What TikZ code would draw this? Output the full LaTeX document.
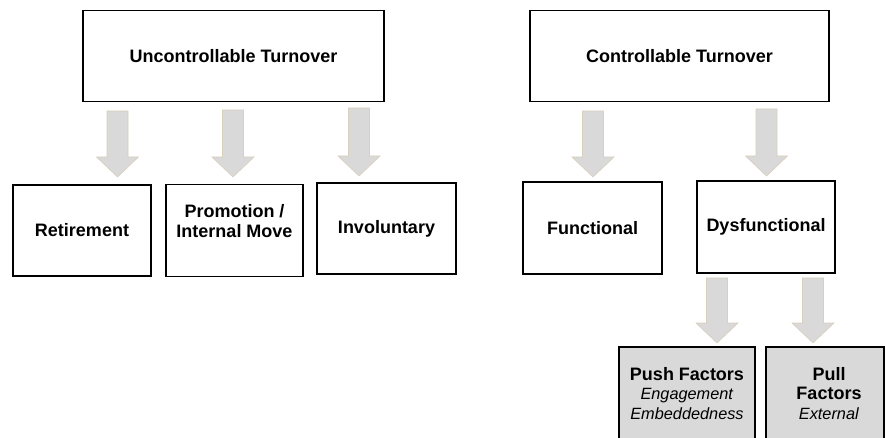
\documentclass[tikz,border=0pt]{standalone}
\usepackage{fontspec}
\setmainfont{Liberation Sans}
\usetikzlibrary{calc}

\definecolor{arrowgrey}{HTML}{D9D9D9}
\definecolor{arrowedge}{HTML}{D8CFBD}
\definecolor{factorfill}{HTML}{D9D9D9}

% Block arrow from a top-centre coordinate to a tip coordinate
\newcommand\blockarrow[2]{%
  \filldraw[arrowshape] let \p1=(#1), \p2=(#2) in
    (\x1-10.5pt,\y1) -- (\x1+10.5pt,\y1) -- (\x1+10.5pt,\y2+20pt)
    -- (\x1+21pt,\y2+20pt) -- (\x1,\y2) -- (\x1-21pt,\y2+20pt)
    -- (\x1-10.5pt,\y2+20pt) -- cycle;}

\tikzset{
  box/.style={draw=black, line width=1.8pt, fill=white, rectangle,
    inner sep=0pt, align=center, text=black,
    font=\bfseries\fontsize{18}{20.5}\selectfont},
  factorbox/.style={box, fill=factorfill},
  boxtext/.style={inner sep=0pt, align=center, text=black,
    font=\bfseries\fontsize{18}{20.5}\selectfont},
  factortext/.style={inner sep=0pt, align=center, text=black,
    font=\fontsize{16.3}{19.2}\selectfont},
  arrowshape/.style={fill=arrowgrey, draw=arrowedge, line width=0.6pt},
}

\begin{document}
\begin{tikzpicture}[x=1pt, y=-1pt]
  \useasboundingbox (0,0) rectangle (886,438);

  % top level
  \node[box, minimum width=301pt, minimum height=91pt] (unc) at (233.5,56)
    {Uncontrollable Turnover};
  \node[box, minimum width=299pt, minimum height=91pt] (con) at (679.5,56)
    {Controllable Turnover};

  % second level, uncontrollable branch
  \node[box, minimum width=138pt, minimum height=91pt] (ret) at (82,230.5)
    {Retirement};
  \node[box, minimum width=137pt, minimum height=92pt] (pro) at (234.5,230.5) {};
  \node[boxtext] (protext) at (234.5,221) {Promotion /\\Internal Move};
  \node[box, minimum width=139pt, minimum height=91pt] (inv) at (386.5,228.5)
    {Involuntary};

  % second level, controllable branch
  \node[box, minimum width=139pt, minimum height=92pt] (fun) at (592.5,228)
    {Functional};
  \node[box, minimum width=138pt, minimum height=92pt] (dys) at (766,227)
    {Dysfunctional};

  % third level, dysfunctional causes
  \node[factorbox, minimum width=136pt, minimum height=100pt] (push) at (687,397) {};
  \node[factorbox, minimum width=118pt, minimum height=100pt] (pull) at (825,397) {};
  \node[factortext, anchor=base] (pushtext) at (687,419)
    {\textbf{\fontsize{18}{19.2}\selectfont Push Factors}\\\textit{Engagement}\\\textit{Embeddedness}};
  \node[factortext, anchor=base] (pulltext) at (829,419)
    {\textbf{\fontsize{18}{19.2}\selectfont Pull}\\\textbf{\fontsize{18}{19.2}\selectfont Factors}\\\textit{External}};

  % arrow end points
  \coordinate (a1s) at (117.5,111); \coordinate (a1e) at (117.5,177);
  \coordinate (a2s) at (233,110);   \coordinate (a2e) at (233,177);
  \coordinate (a3s) at (359,108);   \coordinate (a3e) at (359,176);
  \coordinate (a4s) at (593,111);   \coordinate (a4e) at (593,177);
  \coordinate (a5s) at (766.5,109); \coordinate (a5e) at (766.5,176);
  \coordinate (a6s) at (717,278);   \coordinate (a6e) at (717,343);
  \coordinate (a7s) at (813,278);   \coordinate (a7e) at (813,343);

  \blockarrow{a1s}{a1e}
  \blockarrow{a2s}{a2e}
  \blockarrow{a3s}{a3e}
  \blockarrow{a4s}{a4e}
  \blockarrow{a5s}{a5e}
  \blockarrow{a6s}{a6e}
  \blockarrow{a7s}{a7e}
\end{tikzpicture}
\end{document}
